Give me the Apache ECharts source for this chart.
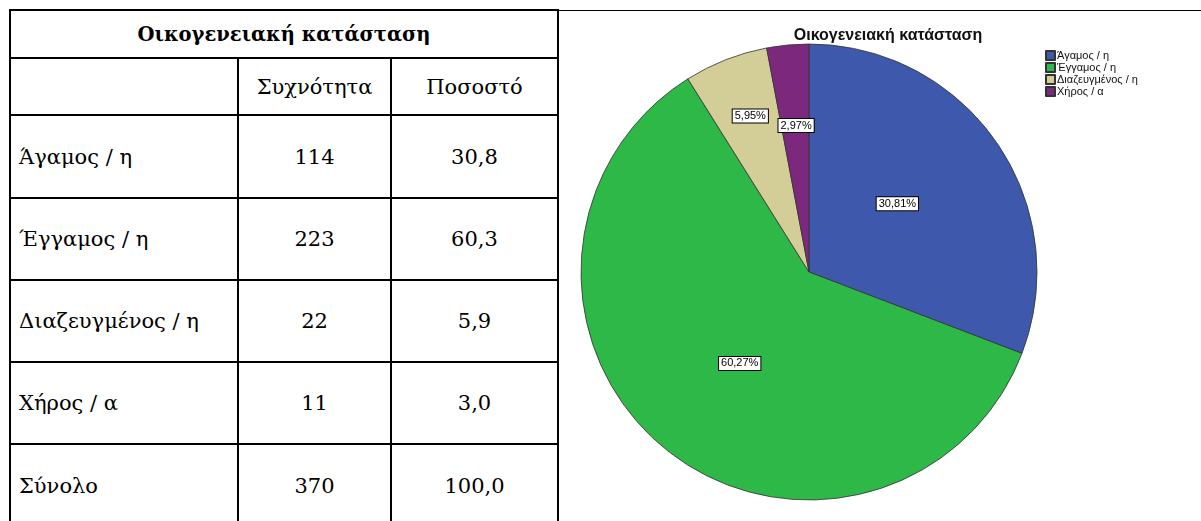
<!DOCTYPE html>
<html>
<head>
<meta charset="utf-8">
<script src="https://cdn.jsdelivr.net/npm/echarts@6/dist/echarts.min.js"></script>
<style>
  html, body { margin: 0; padding: 0; background: #fff; overflow: hidden; }
  #wrap { position: relative; width: 1201px; height: 521px; }
  #topLine { position: absolute; left: 557px; top: 10px; width: 644px; height: 1px; background: #000; }
  #freqTable {
    position: absolute; left: 9px; top: 9px;
    border-collapse: collapse; table-layout: fixed;
    font-family: "DejaVu Serif", "Liberation Serif", serif; font-size: 21px; color: #000;
  }
  #freqTable td { border: 2px solid #000; padding: 0; text-align: center; vertical-align: middle; }
  #freqTable td.lbl { text-align: left; padding-left: 8px; }
  #freqTable td.head { font-weight: bold; font-size: 19.5px; }
  #chart { position: absolute; left: 0; top: 0; width: 1201px; height: 521px; }
</style>
</head>
<body>
<div id="wrap">
  <div id="topLine"></div>
  <table id="freqTable"></table>
  <div id="chart"></div>
</div>
<script>
(function () {
  // δεδομένα
  var title = 'Οικογενειακή κατάσταση';
  var categories = ['Άγαμος / η', 'Έγγαμος / η', 'Διαζευγμένος / η', 'Χήρος / α'];
  var counts = [114, 223, 22, 11];
  var percents = ['30,8', '60,3', '5,9', '3,0'];
  var totalLabel = 'Σύνολο';
  var totalCount = 370;
  var totalPercent = '100,0';
  var colHeads = ['', 'Συχνότητα', 'Ποσοστό'];
  var colors = ['#3e58ac', '#2eb848', '#d3ce97', '#7c287d'];

  // === πίνακας ===
  var table = document.getElementById('freqTable');
  var colW = [228, 153, 167];
  var rowH = [48, 57, 83, 82, 82, 82, 83];
  var html = '<colgroup>' + colW.map(function (w) { return '<col style="width:' + w + 'px">'; }).join('') + '</colgroup>';
  html += '<tr style="height:' + rowH[0] + 'px"><td class="head" colspan="3">' + title + '</td></tr>';
  html += '<tr style="height:' + rowH[1] + 'px">' + colHeads.map(function (h) { return '<td>' + h + '</td>'; }).join('') + '</tr>';
  categories.forEach(function (c, i) {
    html += '<tr style="height:' + rowH[i + 2] + 'px"><td class="lbl">' + c + '</td><td>' + counts[i] + '</td><td>' + percents[i] + '</td></tr>';
  });
  html += '<tr style="height:' + rowH[6] + 'px"><td class="lbl">' + totalLabel + '</td><td>' + totalCount + '</td><td>' + totalPercent + '</td></tr>';
  table.innerHTML = html;

  // === γράφημα πίτας ===
  var labelOffsets = [[-8, -2], [5, 1], [-16, -47], [-2, -30]];
  var pieData = categories.map(function (c, i) {
    return {
      name: c,
      value: counts[i],
      itemStyle: { color: colors[i] },
      label: { offset: labelOffsets[i] }
    };
  });

  var chart = echarts.init(document.getElementById('chart'), null, { renderer: 'canvas' });
  chart.setOption({
    animation: false,
    title: {
      text: title,
      left: 883,
      top: 23,
      textAlign: 'center',
      textStyle: { fontFamily: 'Liberation Sans, Arial, sans-serif', fontSize: 16, fontWeight: 'bold', color: '#111' }
    },
    legend: {
      orient: 'vertical',
      left: 1040,
      top: 45,
      itemWidth: 9,
      itemHeight: 9,
      itemGap: 1,
      icon: 'rect',
      textStyle: { fontFamily: 'Liberation Sans, Arial, sans-serif', fontSize: 11, lineHeight: 10, color: '#111', padding: [0, 0, 0, -3] },
      data: categories
    },
    series: [{
      type: 'pie',
      center: [809, 272],
      radius: 228,
      startAngle: 90,
      clockwise: true,
      avoidLabelOverlap: false,
      data: pieData,
      itemStyle: { borderColor: '#333', borderWidth: 0.8 },
      label: {
        show: true,
        position: 'inside',
        formatter: function (p) { return p.percent.toFixed(2).replace('.', ',') + '%'; },
        fontFamily: 'Liberation Sans, Arial, sans-serif',
        fontSize: 11,
        color: '#000',
        backgroundColor: '#fff',
        borderColor: '#000',
        borderWidth: 1,
        padding: [1, 2]
      },
      labelLine: { show: false },
      emphasis: { disabled: true }
    }]
  });
})();
</script>
</body>
</html>
